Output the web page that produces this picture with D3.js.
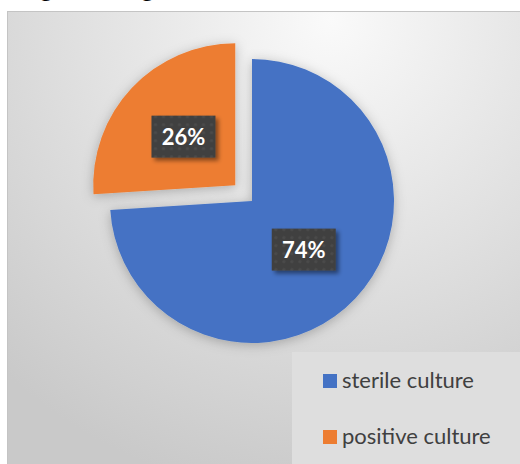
<!DOCTYPE html>
<html>
<head>
<meta charset="utf-8">
<script src="https://cdn.jsdelivr.net/npm/d3@7"></script>
<style>
  body { margin: 0; background: #fff; }
  svg { display: block; }
</style>
</head>
<body>
<svg id="chart" width="520" height="464"></svg>
<script>
// data
var categories = ["sterile culture", "positive culture"];
var values = [74, 26];
var colors = ["#4472C4", "#ED7D31"];
var explode = [0, 23];

var svg = d3.select("#chart");
var defs = svg.append("defs");

// background gradient
var bg = defs.append("radialGradient").attr("id", "bg")
  .attr("gradientUnits", "userSpaceOnUse")
  .attr("cx", 330).attr("cy", 20).attr("r", 480);
bg.append("stop").attr("offset", "0").attr("stop-color", "#fafafa");
bg.append("stop").attr("offset", "1").attr("stop-color", "#c9c9c9");

var shadow = defs.append("filter").attr("id", "shadow")
  .attr("x", "-30%").attr("y", "-30%").attr("width", "160%").attr("height", "160%");
shadow.append("feDropShadow").attr("dx", 0).attr("dy", 2).attr("stdDeviation", 6)
  .attr("flood-color", "#000").attr("flood-opacity", 0.25);

var lshadow = defs.append("filter").attr("id", "lshadow")
  .attr("x", "-30%").attr("y", "-30%").attr("width", "160%").attr("height", "160%");
lshadow.append("feDropShadow").attr("dx", 3).attr("dy", 3).attr("stdDeviation", 2)
  .attr("flood-color", "#000").attr("flood-opacity", 0.45);

var pat = defs.append("pattern").attr("id", "dots")
  .attr("patternUnits", "userSpaceOnUse").attr("width", 8).attr("height", 8);
pat.append("rect").attr("width", 8).attr("height", 8).attr("fill", "#404040");
pat.append("circle").attr("cx", 4).attr("cy", 4).attr("r", 1.6).attr("fill", "#4c4c4c");

// text line above the chart, mostly cut off by the top edge (as in the reference)
svg.append("text")
  .attr("x", 20).attr("y", -4)
  .attr("font-family", "Liberation Serif")
  .attr("font-size", 24)
  .attr("fill", "#000")
  .text("Figure 2 Diagnosis");

// chart area
svg.append("rect")
  .attr("x", 7.5).attr("y", 11.5).attr("width", 520).attr("height", 460)
  .attr("fill", "url(#bg)").attr("stroke", "#c4c4c4");

var cx = 252, cy = 201, radius = 142;

var pie = d3.pie().sort(null).value(function(d) { return d; });
var arcs = pie(values);
var arc = d3.arc().innerRadius(0).outerRadius(radius);

var g = svg.append("g").attr("transform", "translate(" + cx + "," + cy + ")");

function offset(d, i) {
  var mid = (d.startAngle + d.endAngle) / 2;
  return [Math.sin(mid) * explode[i], -Math.cos(mid) * explode[i]];
}

g.selectAll("path.slice")
  .data(arcs)
  .enter()
  .append("path")
  .attr("class", "slice")
  .attr("d", arc)
  .attr("fill", function(d, i) { return colors[i]; })
  .attr("filter", "url(#shadow)")
  .attr("transform", function(d, i) {
    var o = offset(d, i);
    return "translate(" + o[0] + "," + o[1] + ")";
  });

// data labels
var total = d3.sum(values);
var labels = g.selectAll("g.lbl")
  .data(arcs)
  .enter()
  .append("g")
  .attr("class", "lbl")
  .attr("transform", function(d, i) {
    var c = arc.centroid(d);
    var o = offset(d, i);
    return "translate(" + (c[0] + o[0]) + "," + (c[1] + o[1]) + ")";
  });

labels.append("rect")
  .attr("x", -32).attr("y", -21).attr("width", 64).attr("height", 42)
  .attr("fill", "url(#dots)")
  .attr("filter", "url(#lshadow)");

labels.append("text")
  .attr("text-anchor", "middle")
  .attr("y", 8)
  .attr("font-family", "Lato")
  .attr("font-weight", "bold")
  .attr("font-size", 22)
  .attr("fill", "#fff")
  .text(function(d) { return Math.round(d.value / total * 100) + "%"; });

// legend
svg.append("rect")
  .attr("x", 292).attr("y", 352).attr("width", 240).attr("height", 120)
  .attr("fill", "#dedede");

var leg = svg.selectAll("g.leg")
  .data(categories)
  .enter()
  .append("g")
  .attr("class", "leg")
  .attr("transform", function(d, i) { return "translate(323," + (374 + i * 56) + ")"; });

leg.append("rect")
  .attr("width", 14).attr("height", 14)
  .attr("fill", function(d, i) { return colors[i]; });

leg.append("text")
  .attr("x", 19).attr("y", 14)
  .attr("font-family", "Lato")
  .attr("font-size", 22)
  .attr("fill", "#404040")
  .text(function(d) { return d; });
</script>
</body>
</html>
